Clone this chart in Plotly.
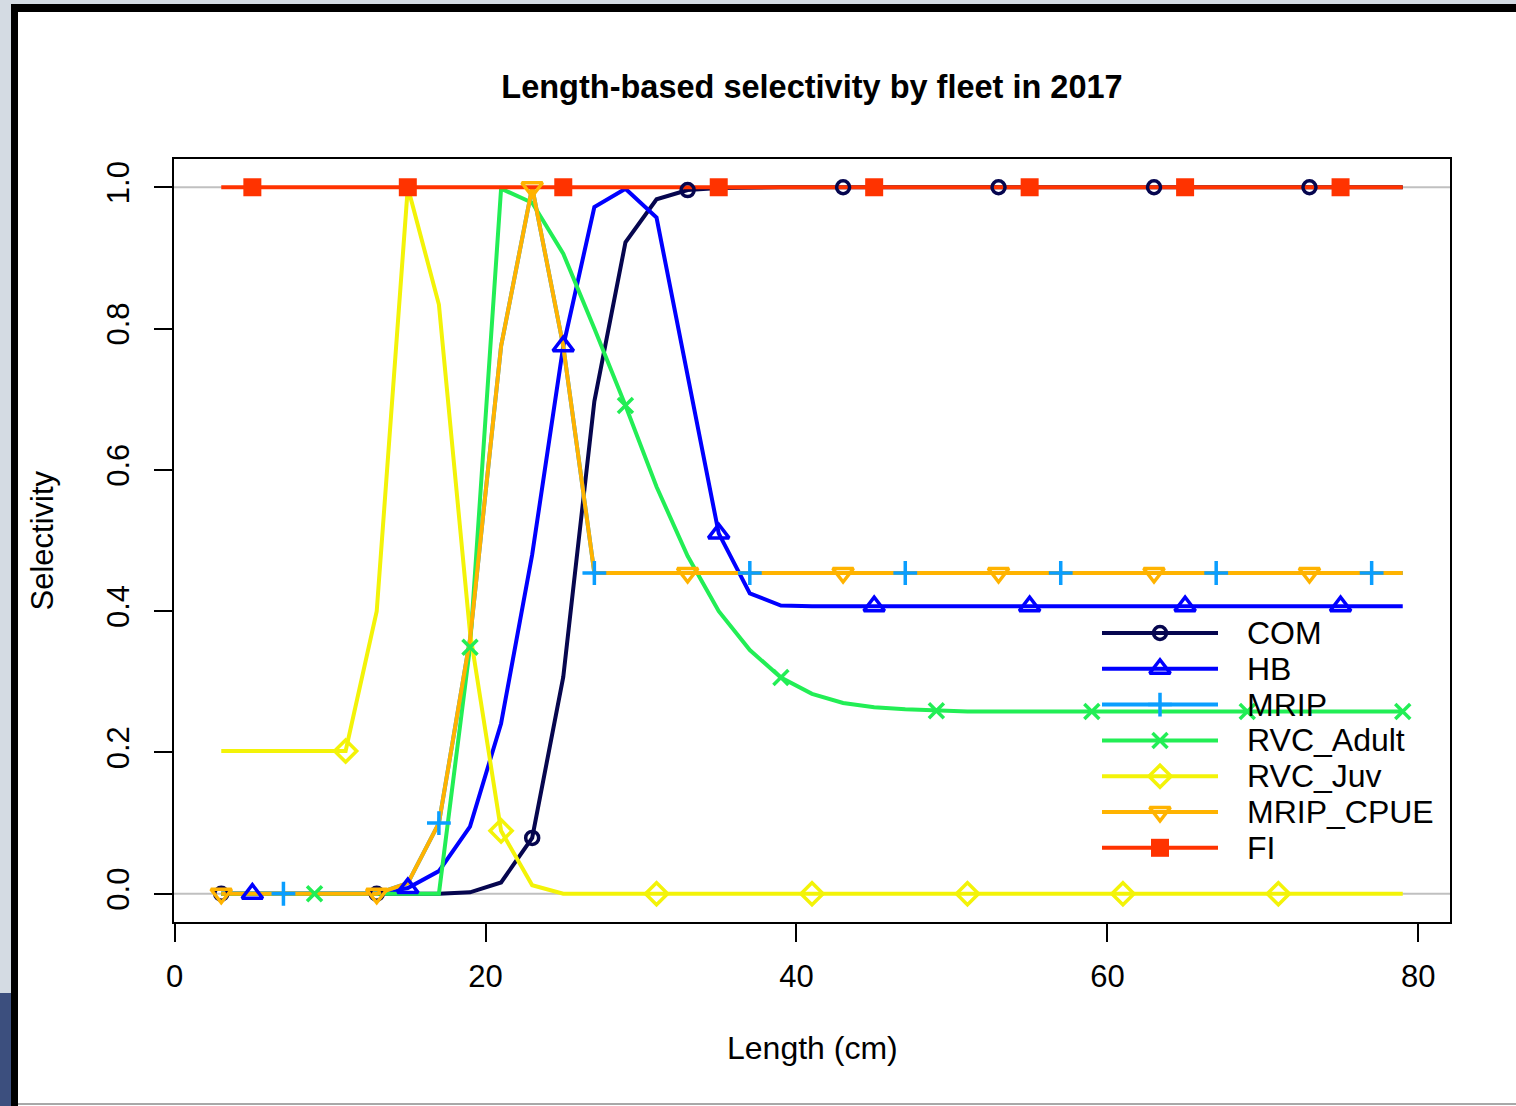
import plotly.graph_objects as go

# ---------------- data ----------------
lengths = [3, 5, 7, 9, 11, 13, 15, 17, 19, 21, 23, 25, 27, 29, 31, 33, 35, 37, 39,
           41, 43, 45, 47, 49, 51, 53, 55, 57, 59, 61, 63, 65, 67, 69, 71, 73, 75, 77, 79]

com = [0, 0, 0, 0, 0, 0, 0, 0,
       0.002, 0.016, 0.079, 0.307, 0.697, 0.922, 0.983, 0.996, 0.999,
       1, 1, 1, 1, 1, 1, 1, 1, 1, 1, 1, 1, 1, 1, 1, 1, 1, 1, 1, 1, 1, 1]

hb = [0, 0, 0, 0, 0, 0,
      0.008, 0.032, 0.095, 0.241, 0.48, 0.775, 0.972, 0.998, 0.957, 0.73, 0.51, 0.425, 0.408,
      0.407, 0.407, 0.407, 0.407, 0.407, 0.407, 0.407, 0.407, 0.407, 0.407,
      0.407, 0.407, 0.407, 0.407, 0.407, 0.407, 0.407, 0.407, 0.407, 0.407]

mrip = [0, 0, 0, 0, 0, 0,
        0.015, 0.10, 0.36, 0.775, 1.0, 0.775, 0.454,
        0.454, 0.454, 0.454, 0.454, 0.454, 0.454, 0.454, 0.454, 0.454, 0.454, 0.454, 0.454, 0.454,
        0.454, 0.454, 0.454, 0.454, 0.454, 0.454, 0.454, 0.454, 0.454, 0.454, 0.454, 0.454, 0.454]

rvc_adult = [0, 0, 0, 0, 0, 0, 0, 0,
             0.349, 0.998, 0.978, 0.906, 0.80, 0.691, 0.576, 0.478, 0.40, 0.345, 0.306,
             0.283, 0.270, 0.264, 0.261, 0.259,
             0.258, 0.258, 0.258, 0.258, 0.258, 0.258, 0.258, 0.258, 0.258, 0.258,
             0.258, 0.258, 0.258, 0.258, 0.258]

rvc_juv = [0.202, 0.202, 0.202, 0.202, 0.202,
           0.40, 1.0, 0.834, 0.37, 0.089, 0.012,
           0, 0, 0, 0, 0, 0, 0, 0, 0, 0, 0, 0, 0, 0, 0, 0, 0, 0, 0, 0, 0, 0, 0, 0, 0, 0, 0, 0]

mrip_cpue = [0, 0, 0, 0, 0, 0,
             0.015, 0.10, 0.36, 0.775, 1.0, 0.775, 0.454,
             0.454, 0.454, 0.454, 0.454, 0.454, 0.454, 0.454, 0.454, 0.454, 0.454, 0.454, 0.454, 0.454,
             0.454, 0.454, 0.454, 0.454, 0.454, 0.454, 0.454, 0.454, 0.454, 0.454, 0.454, 0.454, 0.454]

fi = [1] * 39

fleet_names = ["COM", "HB", "MRIP", "RVC_Adult", "RVC_Juv", "MRIP_CPUE", "FI"]
fleet_values = [com, hb, mrip, rvc_adult, rvc_juv, mrip_cpue, fi]
fleet_colors = ["#06064f", "#0000ff", "#0a9eff", "#22ee55", "#f3f308", "#ffb300", "#ff3300"]
fleet_symbols = ["circle-open", "triangle-up-open", "cross-thin", "x-thin",
                 "diamond-open", "triangle-down-open", "square"]
fleet_sizes = [13, 18, 17, 15, 17, 18, 18]
marker_offsets = [0, 1, 2, 3, 4, 0, 1]

x_ticks = [0, 20, 40, 60, 80]
y_ticks = [0.0, 0.2, 0.4, 0.6, 0.8, 1.0]

# ---------------- geometry ----------------
W, H = 1516, 1106
L, R, T, B = 174, 66, 159, 184
PW, PH = W - L - R, H - T - B
FONT = "Liberation Sans, Arial, sans-serif"
FS = 31


def px(xp):
    return (xp - L) / PW


def py(yp):
    return (H - B - yp) / PH


fig = go.Figure()

# data lines
for name, vals, col in zip(fleet_names, fleet_values, fleet_colors):
    fig.add_trace(go.Scatter(x=lengths, y=vals, mode="lines",
                             line=dict(color=col, width=4), showlegend=False,
                             hoverinfo="skip"))

# data markers (every 5th bin with offset)
for name, vals, col, sym, sz, off in zip(fleet_names, fleet_values, fleet_colors,
                                         fleet_symbols, fleet_sizes, marker_offsets):
    filled = sym == "square"
    fig.add_trace(go.Scatter(x=lengths[off::5], y=vals[off::5], mode="markers",
                             marker=dict(symbol=sym, size=sz, color=col,
                                         line=dict(color=col, width=0 if filled else 3.5)),
                             showlegend=False, cliponaxis=False, hoverinfo="skip"))

# custom legend (drawn on pixel-overlay axes)
leg_y0, leg_dy = 633, 35.8
for i, (name, col, sym, sz) in enumerate(zip(fleet_names, fleet_colors, fleet_symbols, fleet_sizes)):
    yy = leg_y0 + i * leg_dy
    filled = sym == "square"
    fig.add_trace(go.Scatter(x=[1102, 1218], y=[yy, yy], mode="lines",
                             line=dict(color=col, width=4), xaxis="x2", yaxis="y2",
                             showlegend=False, hoverinfo="skip"))
    fig.add_trace(go.Scatter(x=[1160], y=[yy], mode="markers",
                             marker=dict(symbol=sym, size=sz, color=col,
                                         line=dict(color=col, width=0 if filled else 3.5)),
                             xaxis="x2", yaxis="y2", showlegend=False, hoverinfo="skip"))
    fig.add_annotation(x=1245, y=yy, xref="x2", yref="y2", text=name, showarrow=False,
                       xanchor="left", yanchor="middle",
                       font=dict(family=FONT, size=FS + 1, color="black"))

shapes = []
# gray reference lines at 0 and 1
for h in (0, 1):
    shapes.append(dict(type="line", xref="paper", yref="y", x0=0, x1=1, y0=h, y1=h,
                       line=dict(color="#c0c0c0", width=2), layer="below"))
# outer screenshot frame
shapes += [
    dict(type="rect", xref="paper", yref="paper", x0=px(0), x1=px(11), y0=py(993), y1=py(0),
         fillcolor="#d4dbe3", line=dict(width=0), layer="below"),
    dict(type="rect", xref="paper", yref="paper", x0=px(0), x1=px(W), y0=py(4), y1=py(0),
         fillcolor="#d4dbe3", line=dict(width=0), layer="below"),
    dict(type="rect", xref="paper", yref="paper", x0=px(0), x1=px(11), y0=py(H), y1=py(993),
         fillcolor="#3c4f7e", line=dict(width=0), layer="below"),
    dict(type="rect", xref="paper", yref="paper", x0=px(11), x1=px(18), y0=py(H), y1=py(4),
         fillcolor="black", line=dict(width=0), layer="below"),
    dict(type="rect", xref="paper", yref="paper", x0=px(11), x1=px(W), y0=py(12), y1=py(4),
         fillcolor="black", line=dict(width=0), layer="below"),
    dict(type="rect", xref="paper", yref="paper", x0=px(18), x1=px(W), y0=py(1105), y1=py(1103),
         fillcolor="#a8a8a8", line=dict(width=0), layer="below"),
]

axis_common = dict(showgrid=False, zeroline=False, showline=True, linecolor="black",
                   linewidth=2, mirror=True, ticks="outside", tickcolor="black",
                   tickwidth=2, ticklen=18,
                   tickfont=dict(family=FONT, size=FS, color="black"))

fig.update_layout(
    width=W, height=H, autosize=False,
    margin=dict(l=L, r=R, t=T, b=B, pad=0),
    paper_bgcolor="white", plot_bgcolor="white",
    showlegend=False,
    shapes=shapes,
    xaxis=dict(range=[-0.04, 82.04], tickvals=x_ticks, ticktext=[str(v) for v in x_ticks],
               ticklabelstandoff=8, **axis_common),
    yaxis=dict(range=[-0.04, 1.04], tickvals=y_ticks, ticktext=[f"{v:.1f}" for v in y_ticks],
               tickangle=-90, ticklabelstandoff=13, **axis_common),
    xaxis2=dict(overlaying="x", range=[L, W - R], visible=False, fixedrange=True),
    yaxis2=dict(overlaying="y", range=[H - B, T], visible=False, fixedrange=True),
    title=dict(text="<b>Length-based selectivity by fleet in 2017</b>",
               x=812 / W, xanchor="center",
               y=1 - 87 / H, yanchor="middle",
               font=dict(family=FONT, size=32.5, color="black")),
)

fig.add_annotation(x=0.5, y=py(1048), xref="paper", yref="paper", text="Length (cm)",
                   showarrow=False, xanchor="center", yanchor="middle",
                   font=dict(family=FONT, size=FS + 1, color="black"))
fig.add_annotation(x=px(42), y=0.5, xref="paper", yref="paper", text="Selectivity",
                   showarrow=False, textangle=-90, xanchor="center", yanchor="middle",
                   font=dict(family=FONT, size=FS, color="black"))

fig.write_html("out.html")
